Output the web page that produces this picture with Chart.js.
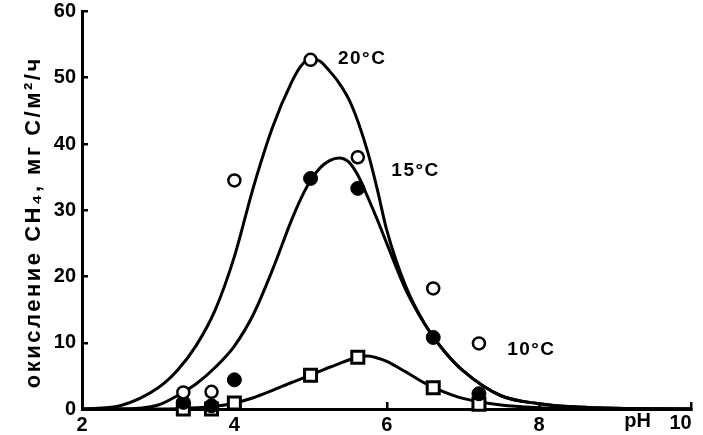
<!DOCTYPE html>
<html><head><meta charset="utf-8">
<script src="https://cdn.jsdelivr.net/npm/chart.js@4.4.0/dist/chart.umd.min.js"></script>
<style>html,body{margin:0;padding:0;background:#fff;}#wrap{width:703px;height:435px;}</style>
</head><body><div id="wrap"><canvas id="c" width="703" height="435"></canvas></div>
<script>
// ---- data ----
const curvePH = [2, 2.5, 3, 3.25, 3.5, 3.75, 4, 4.25, 4.5, 4.75, 4.875, 5, 5.125, 5.25, 5.375, 5.5, 5.625, 5.75, 5.875, 6, 6.25, 6.5, 6.75, 7, 7.5, 8, 8.5, 9, 10];
const curve20 = [0, 0.5, 3.2, 5.8, 9.6, 15, 23, 33.5, 42.5, 49.3, 51.8, 52.9, 52.5, 51.0, 49.2, 46.8, 43.3, 38.8, 33.2, 27, 18.5, 12.8, 8.8, 5.8, 2.0, 0.8, 0.3, 0.1, 0];
const curve15 = [0, 0, 0.6, 2.0, 3.8, 6.3, 9.5, 14.3, 21, 28.5, 31.8, 34.5, 36.4, 37.5, 37.9, 37.3, 35.2, 32, 28.6, 25, 18, 12.8, 8.8, 5.8, 2.0, 0.8, 0.3, 0.1, 0];
const curve10 = [0, 0, 0, 0.05, 0.2, 0.4, 0.9, 1.7, 2.8, 4.0, 4.55, 5.1, 5.7, 6.3, 6.85, 7.4, 7.8, 8.0, 7.7, 7.2, 5.6, 3.9, 2.6, 1.6, 0.6, 0.2, 0.05, 0, 0];
const obsPH = [3.33, 3.7, 4.0, 5.0, 5.62, 6.61, 7.21];
const obs20 = [2.5, 2.6, 34.5, 52.7, 38, 18.2, 9.9];
const obs15 = [1.0, 0.5, 4.4, 34.8, 33.3, 10.8, 2.3];
const obs10 = [0, 0, 0.9, 5.1, 7.8, 3.2, 0.7];
const seriesNames = ['20°C', '15°C', '10°C'];
const xTickValues = [2, 4, 6, 8, 10];
const yTickValues = [0, 10, 20, 30, 40, 50, 60];
const yTitle = 'окисление CH₄, мг C/м²/ч';
const xTitle = 'pH';

const FONT = '"Liberation Sans", Arial, Helvetica, sans-serif';
const pts = (xs, ys) => xs.map((x, i) => ({x: x, y: ys[i]}));

const curveStyle = {type: 'line', borderColor: '#000', borderWidth: 3, pointRadius: 0,
  cubicInterpolationMode: 'monotone', fill: false, order: 2};

const labelPlugin = {
  id: 'seriesLabels',
  afterDraw(chart, args, opts) {
    const ctx = chart.ctx, xs = chart.scales.x, ys = chart.scales.y;
    ctx.save();
    ctx.fillStyle = '#000';
    ctx.font = 'bold 19px ' + FONT;
    ctx.letterSpacing = '1.5px';
    ctx.textAlign = 'left';
    ctx.textBaseline = 'middle';
    opts.anchors.forEach((a, i) => {
      ctx.fillText(seriesNames[i], xs.getPixelForValue(a[0]), ys.getPixelForValue(a[1]));
    });
    // x-axis end labels
    ctx.font = 'bold 20px ' + FONT;
    ctx.letterSpacing = '0px';
    ctx.textBaseline = 'top';
    ctx.textAlign = 'center';
    const xr = xs.getPixelForValue(10);
    ctx.fillText(xTitle, xr - 54, xs.top + 2);
    ctx.fillText(String(xTickValues[xTickValues.length - 1]), xr - 11, xs.top + 4);
    ctx.restore();
  }
};

new Chart(document.getElementById('c'), {
  data: {
    datasets: [
      {type: 'scatter', label: seriesNames[0] + ' obs', data: pts(obsPH, obs20), pointStyle: 'circle',
        pointRadius: 6, backgroundColor: '#fff', borderColor: '#000', borderWidth: 2.5, clip: false, order: 0},
      {type: 'scatter', label: seriesNames[1] + ' obs', data: pts(obsPH, obs15), pointStyle: 'circle',
        pointRadius: 7, backgroundColor: '#000', borderColor: '#000', borderWidth: 1, clip: false, order: 0},
      {type: 'scatter', label: seriesNames[2] + ' obs', data: pts(obsPH, obs10), pointStyle: 'rect',
        pointRadius: 8.5, backgroundColor: '#fff', borderColor: '#000', borderWidth: 3, clip: false, order: 0},
      Object.assign({label: seriesNames[0], data: pts(curvePH, curve20)}, curveStyle),
      Object.assign({label: seriesNames[1], data: pts(curvePH, curve15)}, curveStyle),
      Object.assign({label: seriesNames[2], data: pts(curvePH, curve10)}, curveStyle)
    ]
  },
  options: {
    responsive: false,
    animation: false,
    devicePixelRatio: 1,
    layout: {padding: {left: 0, right: 4, top: 11, bottom: 0}},
    plugins: {legend: {display: false}, tooltip: {enabled: false},
      seriesLabels: {anchors: [[5.36, 52.9], [6.06, 36], [7.58, 8.9]]}},
    scales: {
      x: {
        type: 'linear', position: 'bottom', min: 2, max: 10,
        afterBuildTicks: s => { s.ticks = xTickValues.map(v => ({value: v})); },
        ticks: {color: '#000', font: {family: FONT, size: 20, weight: 'bold'}, padding: 11, maxRotation: 0,
          callback: v => (v === xTickValues[xTickValues.length - 1] ? '' : String(v))},
        grid: {drawOnChartArea: false, drawTicks: true, tickLength: -7, color: '#000', lineWidth: 2.5},
        border: {display: true, color: '#000', width: 3},
        afterFit: s => { s.height = 26; s.paddingLeft = 0; s.paddingRight = 0; }
      },
      y: {
        type: 'linear', position: 'left', min: 0, max: 60,
        afterBuildTicks: s => { s.ticks = yTickValues.map(v => ({value: v})); },
        ticks: {color: '#000', font: {family: FONT, size: 20, weight: 'bold'}, padding: 12},
        grid: {drawOnChartArea: false, drawTicks: true, tickLength: -6, color: '#000', lineWidth: 2.5},
        border: {display: true, color: '#000', width: 3},
        title: {display: true, text: yTitle, color: '#000', padding: {top: 21, bottom: 0},
          font: {family: FONT, size: 22, weight: 'bold'}},
        afterFit: s => {
          s.width = 82; s.paddingTop = 0; s.paddingBottom = 0;
          if (!s.__patched) {
            s.__patched = true;
            const orig = s.drawTitle;
            s.drawTitle = function () {
              const c = this.ctx; c.save(); c.translate(0, 12); c.letterSpacing = '2.5px';
              orig.apply(this, arguments); c.restore();
            };
          }
        }
      }
    }
  },
  plugins: [labelPlugin]
});
</script></body></html>
